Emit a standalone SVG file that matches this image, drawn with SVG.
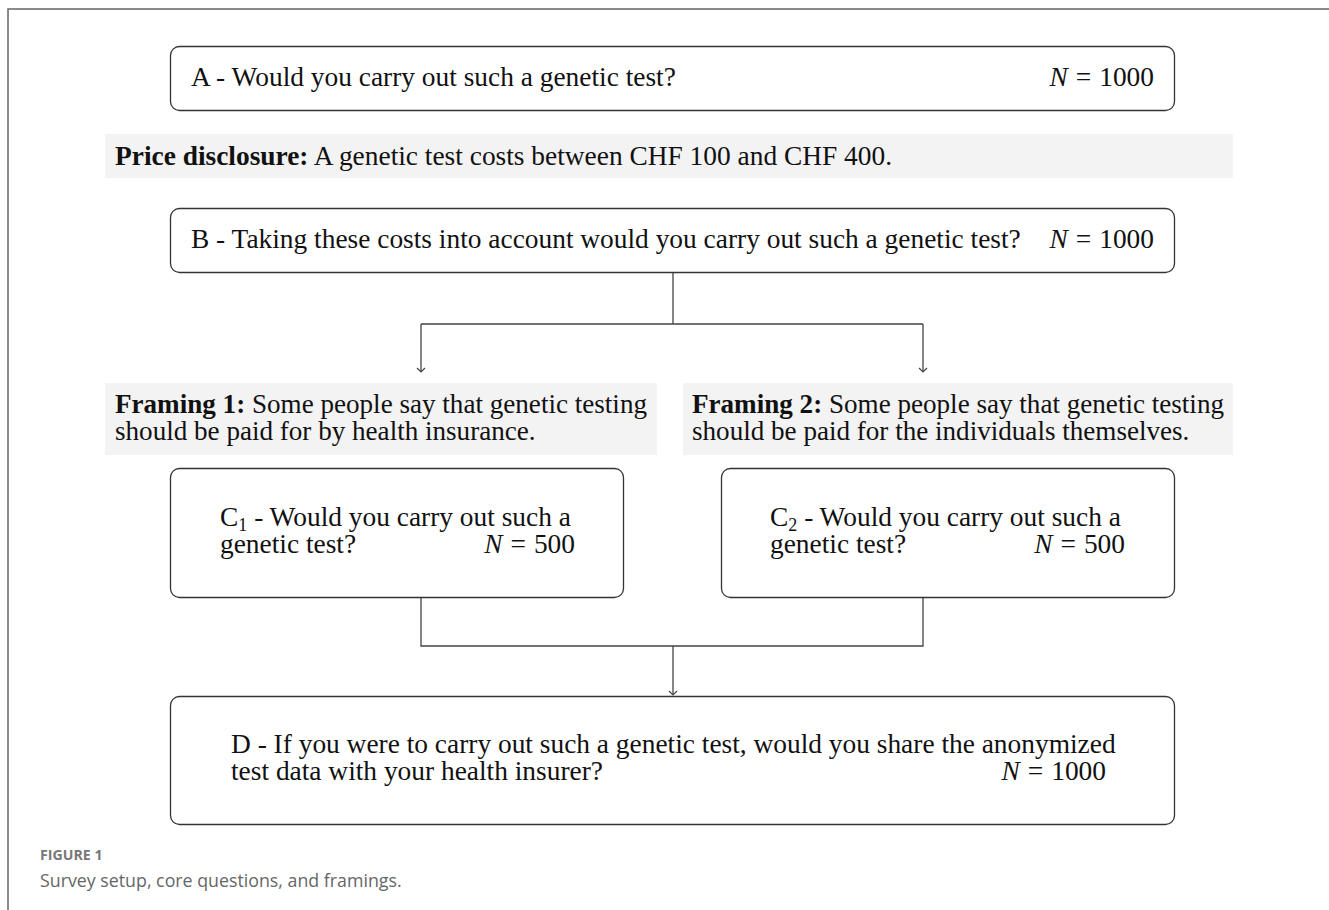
<svg xmlns="http://www.w3.org/2000/svg" width="1329" height="910" viewBox="0 0 1329 910">
<style>
.box{fill:#fff;stroke:#333;stroke-width:1.3}
.band{fill:#f3f3f3;stroke:none}
.t{font-family:"Liberation Serif","Times New Roman",serif;font-size:27.4px;fill:#111}
.f{font-size:27.1px}
.b{font-weight:bold}
.i{font-style:italic}
.con{fill:none;stroke:#444;stroke-width:1.3}
.cap1{font-family:"Open Sans",Lato,sans-serif;font-size:14.2px;font-weight:bold;fill:#777}
.cap2{font-family:"Open Sans",Lato,sans-serif;font-size:17.8px;fill:#666}
</style>
<defs>
<marker id="arr" viewBox="-6 -6 12 12" markerWidth="12" markerHeight="12" refX="0" refY="0" orient="auto" markerUnits="userSpaceOnUse">
<path d="M-4,-4 L0,0 L-4,4" fill="none" stroke="#444" stroke-width="1.2"/>
</marker>
</defs>
<rect width="1329" height="910" fill="#fff"/>
<path d="M8,910 V9 H1329" fill="none" stroke="#666" stroke-width="1.5"/>

<g id="connectors">
<path class="con" d="M673,273 V324 M421,324 H923" />
<path class="con" d="M421,324 V372" marker-end="url(#arr)"/>
<path class="con" d="M923,324 V372" marker-end="url(#arr)"/>
<path class="con" d="M421,597 V646 H923 V597"/>
<path class="con" d="M673,646 V695" marker-end="url(#arr)"/>
</g>

<g id="nodeA">
<rect class="box" x="170.5" y="46.5" width="1004" height="64" rx="9"/>
<text class="t" x="191" y="86">A - Would you carry out such a genetic test?</text>
<text class="t" x="1154" y="86" text-anchor="end"><tspan class="i">N</tspan><tspan dx="8">=</tspan><tspan dx="8">1000</tspan></text>
</g>

<g id="price">
<rect class="band" x="105" y="134" width="1128" height="44"/>
<text class="t" x="115" y="165"><tspan class="b">Price disclosure:</tspan> A genetic test costs between CHF 100 and CHF 400.</text>
</g>

<g id="nodeB">
<rect class="box" x="170.5" y="208.5" width="1004" height="64" rx="9"/>
<text class="t" x="191" y="248">B - Taking these costs into account would you carry out such a genetic test?</text>
<text class="t" x="1154" y="248" text-anchor="end"><tspan class="i">N</tspan><tspan dx="8">=</tspan><tspan dx="8">1000</tspan></text>
</g>

<g id="framing1">
<rect class="band" x="105" y="383" width="552" height="72"/>
<text class="t f" x="115" y="413"><tspan class="b">Framing 1:</tspan> Some people say that genetic testing</text>
<text class="t f" x="115" y="440">should be paid for by health insurance.</text>
</g>

<g id="framing2">
<rect class="band" x="683" y="383" width="550" height="72"/>
<text class="t f" x="692" y="413"><tspan class="b">Framing 2:</tspan> Some people say that genetic testing</text>
<text class="t f" x="692" y="440">should be paid for the individuals themselves.</text>
</g>

<g id="nodeC1">
<rect class="box" x="170.5" y="468.5" width="453" height="129" rx="9"/>
<text class="t" x="220" y="526">C<tspan font-size="18" dy="5">1</tspan><tspan dy="-5"> - Would you carry out such a</tspan></text>
<text class="t" x="220" y="553">genetic test?</text>
<text class="t" x="575" y="553" text-anchor="end"><tspan class="i">N</tspan><tspan dx="8">=</tspan><tspan dx="8">500</tspan></text>
</g>

<g id="nodeC2">
<rect class="box" x="721.5" y="468.5" width="453" height="129" rx="9"/>
<text class="t" x="770" y="526">C<tspan font-size="18" dy="5">2</tspan><tspan dy="-5"> - Would you carry out such a</tspan></text>
<text class="t" x="770" y="553">genetic test?</text>
<text class="t" x="1125" y="553" text-anchor="end"><tspan class="i">N</tspan><tspan dx="8">=</tspan><tspan dx="8">500</tspan></text>
</g>

<g id="nodeD">
<rect class="box" x="170.5" y="696.5" width="1004" height="128" rx="9"/>
<text class="t" x="231" y="753">D - If you were to carry out such a genetic test, would you share the anonymized</text>
<text class="t" x="231" y="780">test data with your health insurer?</text>
<text class="t" x="1106" y="780" text-anchor="end"><tspan class="i">N</tspan><tspan dx="8">=</tspan><tspan dx="8">1000</tspan></text>
</g>

<g id="caption">
<text class="cap1" x="40" y="860">FIGURE 1</text>
<text class="cap2" x="40" y="887">Survey setup, core questions, and framings.</text>
</g>
</svg>
